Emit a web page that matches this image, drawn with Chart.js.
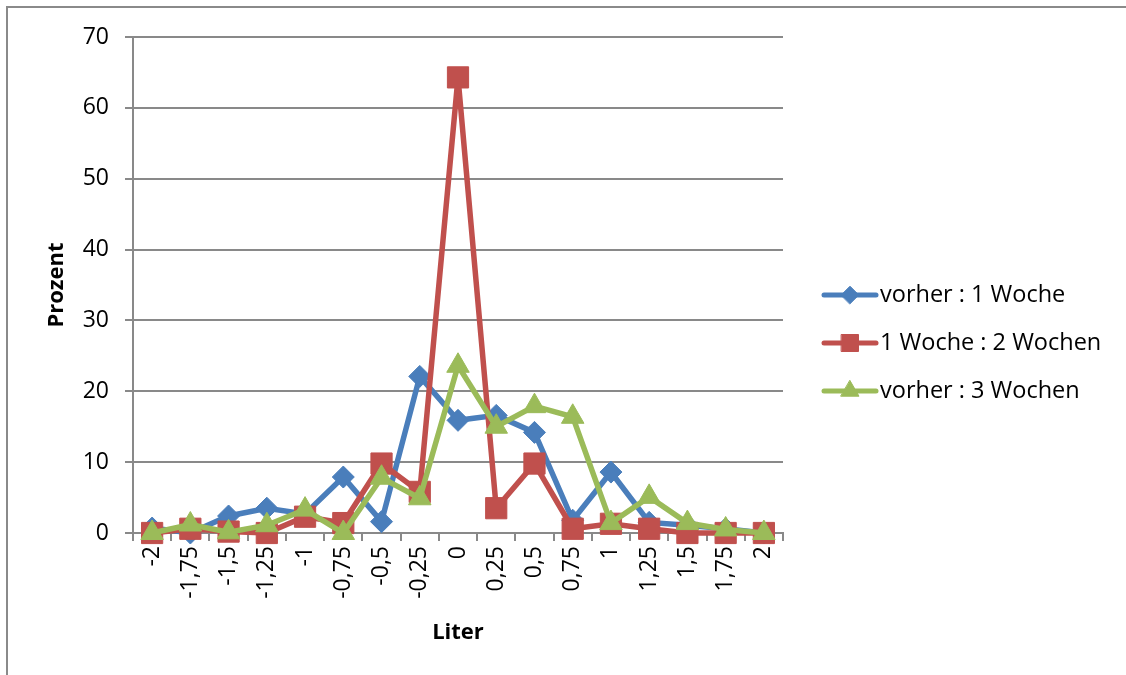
<!DOCTYPE html>
<html>
<head>
<meta charset="utf-8">
<script src="https://cdn.jsdelivr.net/npm/chart.js@4.4.1/dist/chart.umd.min.js"></script>
<style>
  html, body { margin: 0; padding: 0; background: #fff; }
  #frame { position: absolute; left: 6px; top: 6px; width: 1130px; height: 680px;
           border-top: 2px solid #8a8a8a; border-left: 2px solid #8a8a8a; }
  #wrap { position: absolute; left: 0; top: 0; width: 1126px; height: 675px; }
</style>
</head>
<body>
<div id="frame"></div>
<div id="wrap"><canvas id="lineChart"></canvas></div>
<script>
// categories (Liter)
const liter = ["-2", "-1,75", "-1,5", "-1,25", "-1", "-0,75", "-0,5", "-0,25", "0",
               "0,25", "0,5", "0,75", "1", "1,25", "1,5", "1,75", "2"];

// Prozent per series
const vorher1Woche  = [0.7, 0, 2.4, 3.5, 2.7, 7.9, 1.6, 22.1, 15.9, 16.6, 14.2, 1.8, 8.6, 1.5, 1.1, 0.6, 0];
const woche1Woche2  = [0, 0.6, 0.2, 0, 2.3, 1.4, 9.8, 5.8, 64.3, 3.5, 9.8, 0.6, 1.3, 0.6, 0, 0, 0];
const vorher3Wochen = [0, 1.2, 0.1, 1.1, 3.3, 0, 7.8, 4.9, 23.6, 15.0, 17.9, 16.4, 1.4, 5.1, 1.4, 0.5, 0];

const seriesNames = ["vorher : 1 Woche", "1 Woche : 2 Wochen", "vorher : 3 Wochen"];
const yTicks = [0, 10, 20, 30, 40, 50, 60, 70];

const FONT = "'Open Sans', Lato, sans-serif";
const GRID = "#898989";

function makeSet(label, data, color, style, radius, order) {
  return {
    label: label,
    data: data,
    borderColor: color,
    backgroundColor: color,
    pointBackgroundColor: color,
    pointBorderColor: color,
    pointStyle: style,
    pointRadius: radius,
    pointHoverRadius: radius,
    pointBorderWidth: 1,
    borderWidth: 5.5,
    tension: 0,
    fill: false,
    clip: false,
    order: order
  };
}

// legend drawn like Excel: line with marker in the middle
const sideLegend = {
  id: 'sideLegend',
  afterDraw(chart) {
    const ctx = chart.ctx;
    const rows = [295, 343, 391];
    chart.data.datasets.forEach(function (ds, i) {
      const y = rows[i];
      ctx.save();
      ctx.strokeStyle = ds.borderColor;
      ctx.lineWidth = 5;
      ctx.lineCap = 'round';
      ctx.beginPath();
      ctx.moveTo(824, y);
      ctx.lineTo(876, y);
      ctx.stroke();
      ctx.fillStyle = ds.backgroundColor;
      ctx.strokeStyle = ds.borderColor;
      ctx.lineWidth = 1;
      Chart.helpers.drawPoint(ctx, { pointStyle: ds.pointStyle, radius: ds.pointRadius * 0.8, borderWidth: 1, rotation: 0 }, 850, y);
      ctx.fillStyle = '#000';
      ctx.font = "23.5px " + FONT;
      ctx.textBaseline = 'middle';
      ctx.textAlign = 'left';
      ctx.fillText(ds.label, 880, y);
      ctx.restore();
    });
  }
};

const ctx = document.getElementById('lineChart').getContext('2d');
const myChart = new Chart(ctx, {
  type: 'line',
  data: {
    labels: liter,
    datasets: [
      makeSet(seriesNames[0], vorher1Woche, "#4a7ebb", 'rectRot', 11, 2),
      makeSet(seriesNames[1], woche1Woche2, "#c0504d", 'rect', 15, 1),
      makeSet(seriesNames[2], vorher3Wochen, "#9bbb59", 'triangle', 13, 0)
    ]
  },
  options: {
    responsive: true,
    maintainAspectRatio: false,
    animation: false,
    layout: { padding: { left: 0, top: 37, right: 343, bottom: 0 } },
    plugins: {
      legend: { display: false },
      tooltip: { enabled: false }
    },
    scales: {
      x: {
        offset: true,
        grid: { offset: true, drawOnChartArea: false, drawTicks: true, tickLength: 8, color: GRID, lineWidth: 2 },
        border: { color: GRID, width: 2 },
        ticks: { color: '#000', font: { family: FONT, size: 23 }, minRotation: 90, maxRotation: 90, padding: 5, autoSkip: false },
        title: { display: true, text: 'Liter', color: '#000', font: { family: FONT, size: 22, weight: 'bold' }, padding: { top: 29, bottom: 29 } },
        afterFit(scale) { scale.height = 142; }
      },
      y: {
        min: 0,
        max: 70,
        afterBuildTicks(scale) { scale.ticks = yTicks.map(function (v) { return { value: v }; }); },
        grid: { color: GRID, lineWidth: 2, tickLength: 8 },
        border: { color: GRID, width: 2 },
        ticks: { color: '#000', font: { family: FONT, size: 23 }, padding: 16 },
        title: { display: true, text: 'Prozent', color: '#000', font: { family: FONT, size: 22, weight: 'bold' }, padding: { top: 44, bottom: 44 } },
        afterFit(scale) { scale.width = 133; }
      }
    }
  },
  plugins: [sideLegend]
});
</script>
</body>
</html>
